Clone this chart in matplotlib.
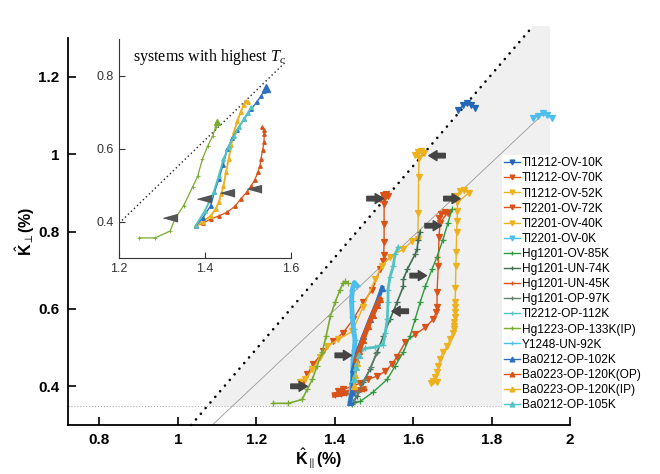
import numpy as np
import matplotlib.pyplot as plt
from matplotlib.patches import Polygon

plt.rcParams['font.family'] = ['Liberation Sans', 'DejaVu Sans']
plt.rcParams['mathtext.fontset'] = 'custom'
plt.rcParams['mathtext.rm'] = 'Liberation Sans'
plt.rcParams['mathtext.bf'] = 'Liberation Sans:bold'
plt.rcParams['mathtext.it'] = 'Liberation Serif:italic'

# ---- data (K_par, K_perp in %) ----
tl1212_10k_x = [1.715, 1.728, 1.738, 1.748, 1.758]
tl1212_10k_y = [1.115, 1.126, 1.132, 1.128, 1.120]

tl1212_70k_x = [1.515, 1.522, 1.530, 1.537, 1.527, 1.526, 1.526, 1.526, 1.525, 1.524, 1.516, 1.496,
                1.473, 1.447, 1.422, 1.396, 1.371, 1.345, 1.330, 1.319]
tl1212_70k_y = [0.885, 0.895, 0.898, 0.893, 0.885, 0.870, 0.820, 0.772, 0.740, 0.723, 0.702, 0.650,
                0.617, 0.573, 0.539, 0.516, 0.490, 0.457, 0.431, 0.410]

tl1212_52k_x = [1.605, 1.612, 1.620, 1.628, 1.615, 1.614, 1.613, 1.612, 1.597, 1.575, 1.541, 1.521,
                1.503, 1.473, 1.445, 1.409, 1.381, 1.363, 1.343, 1.325, 1.312]
tl1212_52k_y = [0.998, 1.006, 1.008, 1.002, 0.990, 0.940, 0.849, 0.780, 0.775, 0.754, 0.735, 0.712,
                0.676, 0.606, 0.542, 0.521, 0.503, 0.475, 0.444, 0.418, 0.410]

tl2201_72k_x = [1.665, 1.672, 1.680, 1.688, 1.669, 1.666, 1.664, 1.661, 1.661, 1.659, 1.651, 1.631,
                1.605, 1.580, 1.559, 1.546, 1.529, 1.508, 1.485, 1.465, 1.445, 1.422, 1.409]
tl2201_72k_y = [0.835, 0.845, 0.850, 0.848, 0.823, 0.787, 0.710, 0.643, 0.606, 0.591, 0.573, 0.552,
                0.534, 0.514, 0.477, 0.457, 0.439, 0.426, 0.418, 0.408, 0.400, 0.392, 0.387]

tl2201_40k_x = [1.710, 1.720, 1.730, 1.742, 1.713, 1.713, 1.712, 1.711, 1.710, 1.709, 1.708, 1.707,
                1.707, 1.706, 1.706, 1.705, 1.705, 1.705, 1.702, 1.694, 1.687, 1.676, 1.669, 1.664,
                1.661, 1.656, 1.651, 1.645, 1.660]
tl2201_40k_y = [0.893, 0.905, 0.906, 0.900, 0.875, 0.852, 0.826, 0.800, 0.748, 0.710, 0.655, 0.617,
                0.604, 0.591, 0.578, 0.565, 0.555, 0.547, 0.539, 0.521, 0.503, 0.488, 0.470, 0.452,
                0.436, 0.423, 0.413, 0.408, 0.410]

tl2201_0k_x = [1.905, 1.918, 1.930, 1.942, 1.955]
tl2201_0k_y = [1.092, 1.098, 1.105, 1.100, 1.092]

hg1201_85k_x = [1.445, 1.465, 1.498, 1.534, 1.554, 1.575, 1.592, 1.605, 1.618, 1.631, 1.648, 1.661,
                1.676, 1.689, 1.699]
hg1201_85k_y = [0.354, 0.361, 0.385, 0.418, 0.452, 0.488, 0.529, 0.573, 0.617, 0.658, 0.702, 0.735,
                0.779, 0.823, 0.857]

hg1201_74k_x = [1.447, 1.457, 1.473, 1.490, 1.508, 1.524, 1.541, 1.559, 1.575, 1.575, 1.585, 1.605,
                1.610, 1.613, 1.618]
hg1201_74k_y = [0.359, 0.374, 0.410, 0.444, 0.488, 0.529, 0.573, 0.617, 0.658, 0.676, 0.702, 0.741,
                0.754, 0.779, 0.800]

hg1201_45k_x = [1.400, 1.415, 1.430, 1.445, 1.460, 1.475]
hg1201_45k_y = [0.378, 0.380, 0.383, 0.386, 0.390, 0.393]

hg1201_97k_x = [1.450, 1.460, 1.475, 1.492, 1.506]
hg1201_97k_y = [0.362, 0.385, 0.415, 0.450, 0.485]

tl2212_112k_x = [1.562, 1.554, 1.549, 1.541, 1.536, 1.536, 1.534, 1.529, 1.524, 1.503, 1.478, 1.465,
                 1.457, 1.452]
tl2212_112k_y = [0.759, 0.741, 0.710, 0.682, 0.650, 0.617, 0.573, 0.539, 0.508, 0.501, 0.498, 0.490,
                 0.475, 0.452]

hg1223_133k_x = [1.243, 1.282, 1.317, 1.330, 1.343, 1.355, 1.368, 1.378, 1.389, 1.401, 1.414, 1.422,
                 1.427, 1.434]
hg1223_133k_y = [0.356, 0.356, 0.366, 0.392, 0.418, 0.452, 0.488, 0.529, 0.581, 0.617, 0.650, 0.668,
                 0.671, 0.666]

y1248_92k_x = [1.457, 1.450, 1.445, 1.443, 1.445, 1.448, 1.452, 1.450, 1.447, 1.446, 1.445, 1.442,
               1.440]
y1248_92k_y = [0.660, 0.668, 0.650, 0.620, 0.580, 0.547, 0.520, 0.495, 0.470, 0.440, 0.410, 0.385,
               0.362]

ba0212_102k_x = [1.439, 1.445, 1.447, 1.460, 1.473, 1.490, 1.508, 1.521]
ba0212_102k_y = [0.359, 0.385, 0.444, 0.495, 0.529, 0.573, 0.617, 0.655]

ba0223_op_x = [1.455, 1.462, 1.472, 1.485, 1.497, 1.508, 1.516]
ba0223_op_y = [0.470, 0.490, 0.520, 0.555, 0.585, 0.610, 0.625]

ba0223_ip_x = [1.448, 1.452, 1.458]
ba0223_ip_y = [0.400, 0.430, 0.460]

ba0212_105k_x = [1.448, 1.455, 1.462]
ba0212_105k_y = [0.420, 0.450, 0.480]

labels = ['Tl1212-OV-10K', 'Tl1212-OV-70K', 'Tl1212-OV-52K', 'Tl2201-OV-72K', 'Tl2201-OV-40K',
          'Tl2201-OV-0K', 'Hg1201-OV-85K', 'Hg1201-UN-74K', 'Hg1201-UN-45K', 'Hg1201-OP-97K',
          'Tl2212-OP-112K', 'Hg1223-OP-133K(IP)', 'Y1248-UN-92K', 'Ba0212-OP-102K',
          'Ba0223-OP-120K(OP)', 'Ba0223-OP-120K(IP)', 'Ba0212-OP-105K']

# inset curves (systems with highest Tc)
in_red_x = [1.378, 1.395, 1.413, 1.432, 1.452, 1.470, 1.483, 1.497, 1.507, 1.516, 1.523, 1.528,
            1.530, 1.534, 1.537, 1.538, 1.537, 1.533]
in_red_y = [0.388, 0.395, 0.407, 0.415, 0.426, 0.442, 0.462, 0.480, 0.497, 0.515, 0.535, 0.553,
            0.571, 0.595, 0.617, 0.640, 0.652, 0.658]
in_yel_x = [1.378, 1.395, 1.413, 1.425, 1.432, 1.438, 1.443, 1.449, 1.455, 1.461, 1.467, 1.475,
            1.483, 1.490, 1.495, 1.500]
in_yel_y = [0.387, 0.400, 0.415, 0.435, 0.453, 0.475, 0.497, 0.535, 0.571, 0.610, 0.644, 0.675,
            0.700, 0.720, 0.730, 0.728]
in_blue_x = [1.378, 1.395, 1.413, 1.422, 1.432, 1.442, 1.452, 1.463, 1.475, 1.490, 1.507, 1.520,
             1.530, 1.537, 1.542]
in_blue_y = [0.387, 0.410, 0.443, 0.480, 0.516, 0.555, 0.598, 0.628, 0.652, 0.680, 0.707, 0.727,
             0.743, 0.757, 0.767]
in_cyan_x = [1.378, 1.400, 1.420, 1.432, 1.443, 1.455, 1.467, 1.480, 1.490, 1.500, 1.507]
in_cyan_y = [0.388, 0.430, 0.480, 0.525, 0.571, 0.605, 0.634, 0.660, 0.680, 0.698, 0.713]
in_green_x = [1.247, 1.284, 1.319, 1.330, 1.350, 1.371, 1.383, 1.394, 1.406, 1.418, 1.425, 1.429]
in_green_y = [0.355, 0.355, 0.374, 0.407, 0.443, 0.494, 0.524, 0.571, 0.606, 0.634, 0.660, 0.672]
in_mark_x = [1.319, 1.397, 1.452, 1.513]
in_mark_y = [0.410, 0.462, 0.479, 0.489]

# guide lines
dot_x = [1.034, 1.905]
dot_y = [0.300, 1.330]
thin_x = [1.088, 1.936]
thin_y = [0.300, 1.108]
shade_x = [1.076, 1.95, 1.95, 1.905]
shade_y = [0.35, 0.35, 1.33, 1.33]
in_dot_x = [1.20, 1.59]
in_dot_y = [0.395, 0.840]

# onset arrows: centre and direction (+1 right, -1 left)
arrow_x = [1.309, 1.422, 1.567, 1.613, 1.651, 1.699, 1.661, 1.503]
arrow_y = [0.400, 0.480, 0.594, 0.686, 0.815, 0.885, 0.996, 0.885]
arrow_dir = [1, 1, -1, 1, 1, 1, -1, 1]

BLUE = '#2167B5'
ORANGE = '#D95319'
YELLOW = '#EDB120'
LBLUE = '#4DBEEE'
GREEN = '#2E9A3E'
DKGREEN = '#3F6F55'
GRGREEN = '#62806E'
CYAN = '#52C3C3'
LGREEN = '#77AC30'

series = [
    (tl1212_10k_x, tl1212_10k_y, BLUE, 'v', 1.0),
    (tl1212_70k_x, tl1212_70k_y, ORANGE, 'v', 1.0),
    (tl1212_52k_x, tl1212_52k_y, YELLOW, 'v', 1.0),
    (tl2201_72k_x, tl2201_72k_y, ORANGE, 'v', 1.0),
    (tl2201_40k_x, tl2201_40k_y, YELLOW, 'v', 1.0),
    (tl2201_0k_x, tl2201_0k_y, LBLUE, 'v', 1.0),
    (hg1201_85k_x, hg1201_85k_y, GREEN, '+', 1.0),
    (hg1201_74k_x, hg1201_74k_y, DKGREEN, '+', 1.2),
    (hg1201_45k_x, hg1201_45k_y, ORANGE, '+', 4.0),
    (hg1201_97k_x, hg1201_97k_y, GRGREEN, '+', 1.0),
    (tl2212_112k_x, tl2212_112k_y, CYAN, '+', 2.0),
    (hg1223_133k_x, hg1223_133k_y, LGREEN, '+', 1.2),
    (y1248_92k_x, y1248_92k_y, LBLUE, '+', 3.5),
    (ba0212_102k_x, ba0212_102k_y, '#2F6FC0', '^', 3.0),
    (ba0223_op_x, ba0223_op_y, ORANGE, '^', 3.5),
    (ba0223_ip_x, ba0223_ip_y, YELLOW, '^', 1.0),
    (ba0212_105k_x, ba0212_105k_y, CYAN, '^', 1.0),
]

fig = plt.figure(figsize=(6.6, 4.74), dpi=100)
ax = fig.add_axes([68 / 660, 49 / 474, 502 / 660, 387 / 474])

ax.add_patch(Polygon(np.column_stack([shade_x, shade_y]), closed=True, facecolor='#F0F0F0',
                     edgecolor='none', zorder=0, clip_on=False))
ax.plot([0.72, 1.95], [0.35, 0.35], color='#AAAAAA', lw=0.8, ls=':', zorder=1)
ax.plot(thin_x, thin_y, color='#9A9A9A', lw=0.6, zorder=1)
ax.plot(dot_x, dot_y, color='black', lw=1.9, ls=(0, (0.01, 2.8)), dash_capstyle='round',
        zorder=1, clip_on=False)

handles = []
for (xs, ys, col, mk, lw), lab in zip(series, labels):
    ms = 5 if mk != '+' else 4
    h, = ax.plot(xs, ys, color=col, marker=mk, ms=ms, mew=0.9, lw=lw, label=lab, zorder=3)
    handles.append(h)

for cx, cy, d in zip(arrow_x, arrow_y, arrow_dir):
    ax.annotate('', xy=(cx + 0.021 * d, cy), xytext=(cx - 0.021 * d, cy),
                arrowprops=dict(arrowstyle='simple,head_length=0.45,head_width=0.55,tail_width=0.25',
                                color='#444444', shrinkA=0, shrinkB=0, mutation_scale=13),
                zorder=5)

ax.set_xlim(0.72, 2.0)
ax.set_ylim(0.3, 1.3)
ax.set_xticks([0.8, 1.0, 1.2, 1.4, 1.6, 1.8, 2.0])
ax.set_xticklabels(['0.8', '1', '1.2', '1.4', '1.6', '1.8', '2'])
ax.set_yticks([0.4, 0.6, 0.8, 1.0, 1.2])
ax.set_yticklabels(['0.4', '0.6', '0.8', '1', '1.2'])
for s in ['top', 'right']:
    ax.spines[s].set_visible(False)
for s in ['left', 'bottom']:
    ax.spines[s].set_linewidth(1.3)
ax.tick_params(direction='in', length=6, width=1.2, labelsize=11, pad=6)
for t in ax.get_xticklabels() + ax.get_yticklabels():
    t.set_fontweight('bold')
ax.set_facecolor('none')
ax.set_xlabel(r'$\hat{\mathbf{K}}_{\parallel}$(%)', fontsize=11.5, fontweight='bold', labelpad=0)
ax.set_ylabel(r'$\hat{\mathbf{K}}_{\perp}$(%)', fontsize=11.5, fontweight='bold', labelpad=1)

leg = ax.legend(handles=handles, loc='upper left', bbox_to_anchor=(496 / 660, 325 / 474),
                bbox_transform=fig.transFigure, fontsize=8.6, frameon=True, framealpha=1,
                facecolor='white', edgecolor='none', handlelength=1.3, handletextpad=0.15,
                labelspacing=0.26, borderpad=0.2, markerscale=0.7)
for h in leg.legend_handles:
    h.set_linewidth(1.0)

# inset
ia = fig.add_axes([119 / 660, 216 / 474, 172 / 660, 219 / 474])
ia.set_facecolor('white')
ia.plot(in_dot_x, in_dot_y, color='#222222', lw=1.0, ls=(0, (1, 2)), zorder=1)
ia.plot(in_green_x, in_green_y, color=LGREEN, marker='+', ms=3, mew=0.6, lw=0.9, zorder=3)
ia.plot(in_red_x, in_red_y, color=ORANGE, marker='^', ms=2.5, lw=0.9, zorder=3)
ia.plot(in_yel_x, in_yel_y, color=YELLOW, marker='^', ms=2.5, lw=1.4, zorder=3)
ia.plot(in_blue_x, in_blue_y, color='#2F6FC0', marker='^', ms=2.5, lw=1.0, zorder=3)
ia.plot(in_cyan_x, in_cyan_y, color=CYAN, marker='^', ms=2.5, lw=1.4, zorder=3)
ia.plot(in_blue_x[-1:], in_blue_y[-1:], color='#2F6FC0', marker='^', ms=6, lw=0, zorder=4)
ia.plot(in_green_x[-1:], in_green_y[-1:], color=LGREEN, marker='^', ms=4, lw=0, zorder=4)
ia.plot(in_mark_x, in_mark_y, ls='none', marker=[(-1, 0), (1, 0.55), (1, -0.55)], ms=10,
        color='#555555', zorder=5)
ia.text(1.232, 0.852, r'systems with highest $T_c$', family='Liberation Serif', fontsize=11.5,
        va='center', ha='left')
ia.set_xlim(1.2, 1.6)
ia.set_ylim(0.3, 0.9)
ia.set_xticks([1.2, 1.4, 1.6])
ia.set_yticks([0.4, 0.6, 0.8])
for s in ['top', 'right']:
    ia.spines[s].set_visible(False)
for s in ['left', 'bottom']:
    ia.spines[s].set_color('#333333')
ia.tick_params(direction='in', length=4, labelsize=9, labelcolor='#333333', color='#333333')

fig.savefig('out.png', dpi=100)
